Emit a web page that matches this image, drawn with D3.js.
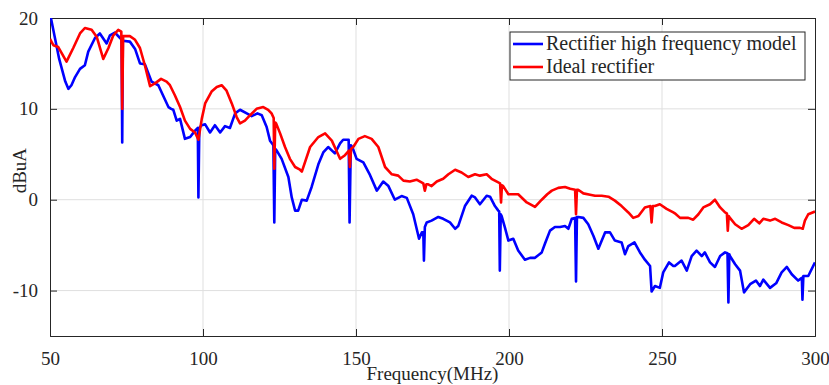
<!DOCTYPE html>
<html lang="en">
<head>
  <meta charset="UTF-8">
  <title>Rectifier spectrum</title>
  <script src="https://d3js.org/d3.v7.min.js"></script>
  <style>
    html, body { margin: 0; background: #fff; }
    svg text { font-family: "Liberation Serif", "Times New Roman", serif; fill: #262626; }
    .tick-label { font-size: 19px; }
    .axis-title { font-size: 19px; }
    .legend-text { font-size: 20px; }
  </style>
</head>
<body>
  <svg width="829" height="385"></svg>
  <script>
    // [frequency MHz, dBuA]
    const modelData = [
      [50,20.5],[51.5,18],[53,15.5],[55,13],[56,12.2],[57,12.6],[58.2,13.5],[59.8,14.4],[61.4,14.8],[62.5,16.3],
      [64.7,17.8],[66.3,18.3],[68.5,17.2],[69.6,18.1],[71.2,18.4],[72.9,17.8],[73.4,17.6],[73.6,6.3],[73.8,17.5],
      [76.1,17.4],[77.8,16.6],[79.4,15.0],[81,14.9],[83.2,13.0],[85.4,12.6],[88.7,10.2],[89.6,10.0],[90.3,9.9],
      [91.4,8.7],[92.5,8.9],[94.1,6.7],[95.8,6.9],[97.4,7.6],[98.3,7.9],[98.5,0.25],[98.8,7.9],[99.6,8.2],
      [100.7,8.3],[102.3,7.4],[103.9,8.2],[105.6,7.4],[107.2,8.1],[108.8,7.9],[110.5,9.5],[112.1,9.9],[114.3,9.5],
      [115.9,9.2],[117.8,9.5],[119.2,9.3],[120.8,8.0],[121.9,6.5],[123.0,6.0],[123.3,-2.5],[123.6,5.6],[124.1,5.4],
      [125.7,4.5],[127.9,2.5],[129,0.25],[130.1,-1.2],[131.1,-1.2],[132.3,0.0],[133.9,-0.1],[135.5,1.4],[137.7,3.9],
      [139.3,5.2],[140.9,5.8],[143.1,5.1],[144.8,6.2],[145.8,6.6],[147.6,6.6],[147.9,-2.5],[148.3,6.0],[148.8,5.8],
      [150.2,4.5],[152.4,4.1],[154.6,2.7],[156.8,1.0],[158.9,2.0],[160.6,1.5],[162.7,0.0],[164.9,0.4],[166.6,0.2],
      [168.7,-1.6],[170.6,-4.3],[171.5,-3.6],[172.0,-3.6],[172.2,-6.7],[172.5,-3.0],[173.1,-2.5],[174.7,-2.3],
      [176.9,-1.9],[178.5,-2.1],[180.7,-2.5],[182.4,-3.2],[183.4,-2.9],[185.6,-0.7],[187.8,0.44],[188.9,0.25],
      [190.5,-0.5],[192.7,0.44],[193.8,0.33],[195.4,-0.7],[196.5,-1.2],[196.8,-1.3],[197.0,-7.8],[197.3,-1.6],
      [197.6,-1.8],[198.7,-3.1],[199.8,-4.5],[201.4,-4.3],[203,-5.6],[205.2,-6.6],[206.9,-6.4],[208.5,-6.4],
      [210.7,-5.8],[211.8,-4.8],[213.4,-3.4],[215,-3.0],[216.7,-3.0],[218.3,-2.9],[219.4,-3.2],[220.5,-2.1],
      [221.6,-2.0],[221.9,-9.0],[222.2,-1.9],[222.6,-1.9],[224.3,-2.0],[225.9,-2.7],[227.6,-4.0],[229.2,-5.4],
      [231.4,-3.6],[233,-3.6],[234.6,-4.5],[236.8,-4.7],[237.9,-6.0],[239,-5.1],[241,-4.7],[242.8,-5.8],
      [244.4,-6.6],[246.1,-7.3],[246.6,-10.1],[247.7,-9.5],[249.3,-9.7],[250.4,-8.0],[252.3,-6.9],[253.7,-7.3],
      [254.2,-7.3],[256.4,-6.7],[258.1,-7.8],[259.7,-6.2],[261.3,-5.6],[263,-6.2],[264,-5.8],[265.7,-6.9],
      [267.3,-7.4],[269,-6.2],[270.6,-5.8],[271.4,-5.9],[271.7,-11.3],[272.0,-6.0],[272.2,-6.2],[273.9,-7.1],
      [275.5,-7.8],[276.8,-10.2],[278.8,-9.3],[280.7,-8.9],[282,-9.5],[283.1,-8.8],[285.3,-9.7],[287.3,-9.2],
      [289.1,-8.0],[290.8,-7.4],[292.4,-8.2],[294.5,-8.9],[295.7,-8.6],[295.9,-11.0],[296.2,-8.4],[297.8,-8.4],
      [300,-6.9]
    ];

    const idealData = [
      [50,17.7],[51.1,17.0],[52.7,16.8],[55.4,15.2],[57.6,16.7],[59.8,18.3],[61.4,18.9],[63.6,18.7],[65.3,17.9],
      [67.4,15.5],[69.1,16.7],[70.7,18.1],[72.3,18.7],[73.3,18.5],[73.6,10.0],[73.9,18.0],[76.1,18.0],[77.8,17.6],
      [79.4,16.7],[81,14.8],[82.7,12.5],[84.3,12.8],[86.3,13.3],[88.1,13.0],[89.2,12.6],[90.8,11.5],[92.5,10.2],
      [94.1,8.7],[95.8,7.8],[97.4,7.4],[98.5,6.6],[99.6,8.9],[100.7,10.6],[102.8,11.9],[104.5,12.4],[106.1,12.6],
      [107.7,12.0],[109.4,10.6],[111,9.1],[112.1,8.4],[113.7,8.7],[115.4,9.3],[117.5,10.0],[119.7,10.2],
      [121.3,9.9],[122.4,9.5],[123.1,9.0],[123.3,3.4],[123.6,8.5],[123.9,8.4],[125.2,7.3],[126.8,5.8],[128.4,4.5],
      [130.1,3.6],[131.7,3.3],[132.3,3.1],[135,5.8],[137.7,6.9],[139.9,7.3],[142.1,6.5],[144.8,4.5],[146.4,4.9],
      [147.7,5.4],[148,3.6],[148.4,5.6],[149.1,5.8],[150.8,6.7],[152.9,7.0],[155.1,6.7],[157.3,5.8],[159.5,3.6],
      [161.7,2.8],[163.8,2.65],[165.5,2.1],[167.6,2.0],[169.8,2.2],[172,1.8],[172.5,1.0],[173.0,1.7],[173.6,1.7],
      [174.7,1.5],[176.4,2.0],[178.5,2.3],[180.2,2.8],[182.4,3.3],[184.5,3.0],[186.7,2.5],[188.9,2.8],[190.5,2.65],
      [192.7,2.8],[194.3,2.3],[196.5,1.9],[197.1,1.8],[197.4,-0.3],[197.7,1.6],[198.1,1.5],[199.8,0.6],[201.4,0.6],
      [203,0.6],[205.8,-0.3],[208.5,-0.8],[210.7,0.0],[212.5,0.6],[214,1.0],[216.1,1.3],[218.3,1.4],[220,1.2],
      [221.6,1.1],[221.9,-1.6],[222.2,1.1],[222.6,1.1],[224.3,0.7],[226.5,0.55],[228.1,0.44],[230.3,0.44],
      [232.5,0.33],[234.6,-0.1],[236.8,-0.7],[239,-1.4],[240.6,-2.0],[242.3,-1.8],[244.4,-0.85],[246.2,-0.7],
      [246.6,-2.5],[247.0,-0.7],[247.7,-0.7],[249.3,-0.5],[251.5,-1.0],[253.7,-1.4],[254.2,-1.5],[255.9,-2.0],
      [257.5,-2.0],[258.6,-2.0],[260.2,-2.2],[261.9,-1.6],[263.5,-0.85],[265.7,-0.5],[267.3,0.0],[269,-0.85],
      [270.6,-1.4],[271.2,-1.5],[271.5,-3.4],[271.8,-1.8],[272.2,-2.0],[273.9,-2.7],[276,-3.2],[278.2,-2.8],
      [280.1,-2.1],[281.8,-2.6],[283.1,-2.1],[285.3,-2.3],[287,-2.1],[289.1,-2.5],[291.3,-2.8],[293.2,-3.1],
      [295.1,-3.1],[296,-3.2],[296.7,-2.3],[297.8,-1.6],[300,-1.3]
    ];

    const xTicks = [50, 100, 150, 200, 250, 300];
    const yTicks = [-10, 0, 10, 20];
    const seriesNames = ["Rectifier high frequency model", "Ideal rectifier"];
    const seriesColors = ["#0000ff", "#ff0000"];

    const margin = { top: 18, right: 14, bottom: 49, left: 50 };
    const width = 829 - margin.left - margin.right;
    const height = 385 - margin.top - margin.bottom;

    const svg = d3.select("svg")
      .append("g")
      .attr("transform", `translate(${margin.left},${margin.top})`);

    const x = d3.scaleLinear().domain([50, 300]).range([0, width]);
    const y = d3.scaleLinear().domain([-15, 20]).range([height, 0]);

    // grid
    svg.append("g").selectAll("line")
      .data(xTicks.slice(1, -1))
      .join("line")
      .attr("x1", d => x(d)).attr("x2", d => x(d))
      .attr("y1", 0).attr("y2", height)
      .attr("stroke", "#dfdfdf").attr("stroke-width", 1);
    svg.append("g").selectAll("line")
      .data(yTicks.filter(d => d < 20))
      .join("line")
      .attr("x1", 0).attr("x2", width)
      .attr("y1", d => y(d)).attr("y2", d => y(d))
      .attr("stroke", "#dfdfdf").attr("stroke-width", 1);

    // box with inward ticks (top/right without labels)
    const tickLen = 7;
    const fmt = d => String(d);
    svg.append("g")
      .attr("transform", `translate(0,${height})`)
      .call(d3.axisBottom(x).tickValues(xTicks).tickSize(-tickLen).tickPadding(16).tickFormat(fmt));
    svg.append("g")
      .call(d3.axisLeft(y).tickValues(yTicks).tickSize(-tickLen).tickPadding(12).tickFormat(fmt));
    svg.append("g")
      .call(d3.axisTop(x).tickValues(xTicks).tickSize(-tickLen).tickFormat(""));
    svg.append("g")
      .attr("transform", `translate(${width},0)`)
      .call(d3.axisRight(y).tickValues(yTicks).tickSize(-tickLen).tickFormat(""));

    svg.selectAll(".domain").attr("stroke", "#262626").attr("stroke-width", 1);
    svg.selectAll(".tick line").attr("stroke", "#262626");
    svg.selectAll(".tick text").attr("class", "tick-label").attr("fill", "#262626");

    // lines
    svg.append("clipPath").attr("id", "plot-clip")
      .append("rect").attr("width", width).attr("height", height);

    const line = d3.line()
      .x(d => x(d[0]))
      .y(d => y(d[1]));

    [modelData, idealData].forEach((data, i) => {
      svg.append("path")
        .datum(data)
        .attr("clip-path", "url(#plot-clip)")
        .attr("fill", "none")
        .attr("stroke", seriesColors[i])
        .attr("stroke-width", 2.6)
        .attr("stroke-linejoin", "round")
        .attr("d", line);
    });

    // axis titles
    svg.append("text")
      .attr("class", "axis-title")
      .attr("x", width / 2)
      .attr("y", height + 44)
      .attr("text-anchor", "middle")
      .text("Frequency(MHz)");
    svg.append("text")
      .attr("class", "axis-title")
      .attr("transform", `translate(-24,${y(3.2)}) rotate(-90)`)
      .attr("text-anchor", "middle")
      .text("dBuA");

    // legend
    const legend = svg.append("g").attr("transform", `translate(${510 - margin.left},${32 - margin.top})`);
    legend.append("rect")
      .attr("width", 295).attr("height", 48)
      .attr("fill", "#fff").attr("stroke", "#262626").attr("stroke-width", 1);
    seriesNames.forEach((name, i) => {
      const row = legend.append("g").attr("transform", `translate(0,${12 + i * 23})`);
      row.append("line")
        .attr("x1", 3).attr("x2", 33)
        .attr("stroke", seriesColors[i]).attr("stroke-width", 2.6);
      row.append("text")
        .attr("class", "legend-text")
        .attr("x", 36).attr("y", 6)
        .text(name);
    });
  </script>
</body>
</html>
